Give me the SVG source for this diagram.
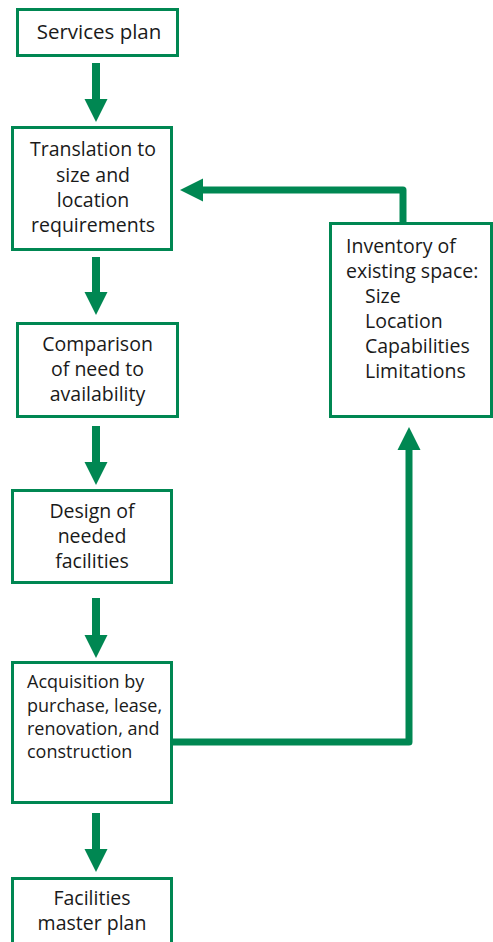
<svg xmlns="http://www.w3.org/2000/svg" width="493" height="942" viewBox="0 0 493 942">
<style>
.box{fill:#fff;stroke:#008752;stroke-width:3}
.t{font-family:"Open Sans","Noto Sans",sans-serif;font-size:19.5px;fill:#1a1a1a}
.c{text-anchor:middle}
.s{font-size:18px}
.arr{fill:none;stroke:#008752;stroke-width:8}
.fb{fill:none;stroke:#008752;stroke-width:7;stroke-linejoin:round}
</style>
<defs>
<marker id="head" markerUnits="userSpaceOnUse" markerWidth="24" markerHeight="24" refX="0" refY="11.5" orient="auto" viewBox="0 0 24 23">
<path d="M0,0 L23,11.5 L0,23 z" fill="#008752"/>
</marker>
</defs>
<g id="connectors">
<path class="arr" d="M96,63 V99" marker-end="url(#head)"/>
<path class="arr" d="M96,257 V292" marker-end="url(#head)"/>
<path class="arr" d="M96,426 V462" marker-end="url(#head)"/>
<path class="arr" d="M96,598 V635" marker-end="url(#head)"/>
<path class="arr" d="M96,813 V849" marker-end="url(#head)"/>
<path class="fb" d="M403,224 V190 H203" marker-end="url(#head)"/>
<path class="fb" d="M172,742 H409 V450" marker-end="url(#head)"/>
</g>
<g id="services-plan">
<rect class="box" x="17.5" y="9.5" width="160" height="46"/>
<text class="t c" x="99" y="39" style="font-size:20.5px">Services plan</text>
</g>
<g id="translation">
<rect class="box" x="12.5" y="127.5" width="159" height="122"/>
<text class="t c" x="93" y="156">Translation to</text>
<text class="t c" x="93" y="182">size and</text>
<text class="t c" x="93" y="207">location</text>
<text class="t c" x="93" y="232">requirements</text>
</g>
<g id="comparison">
<rect class="box" x="17.5" y="323.5" width="160" height="93"/>
<text class="t c" x="97.5" y="351">Comparison</text>
<text class="t c" x="97.5" y="376">of need to</text>
<text class="t c" x="97.5" y="401">availability</text>
</g>
<g id="design">
<rect class="box" x="12.5" y="490.5" width="159" height="92"/>
<text class="t c" x="92" y="518">Design of</text>
<text class="t c" x="92" y="543">needed</text>
<text class="t c" x="92" y="568">facilities</text>
</g>
<g id="acquisition">
<rect class="box" x="12.5" y="662.5" width="159" height="140"/>
<text class="t s" x="27" y="688">Acquisition by</text>
<text class="t s" x="27" y="712">purchase, lease,</text>
<text class="t s" x="27" y="735">renovation, and</text>
<text class="t s" x="27" y="758">construction</text>
</g>
<g id="master-plan">
<rect class="box" x="12.5" y="878.5" width="159" height="80"/>
<text class="t c" x="92" y="905">Facilities</text>
<text class="t c" x="92" y="930">master plan</text>
</g>
<g id="inventory">
<rect class="box" x="330.5" y="223.5" width="161" height="193"/>
<text class="t" x="346" y="253">Inventory of</text>
<text class="t" x="346" y="278">existing space:</text>
<text class="t" x="365" y="303">Size</text>
<text class="t" x="365" y="328">Location</text>
<text class="t" x="365" y="353">Capabilities</text>
<text class="t" x="365" y="378">Limitations</text>
</g>
</svg>
